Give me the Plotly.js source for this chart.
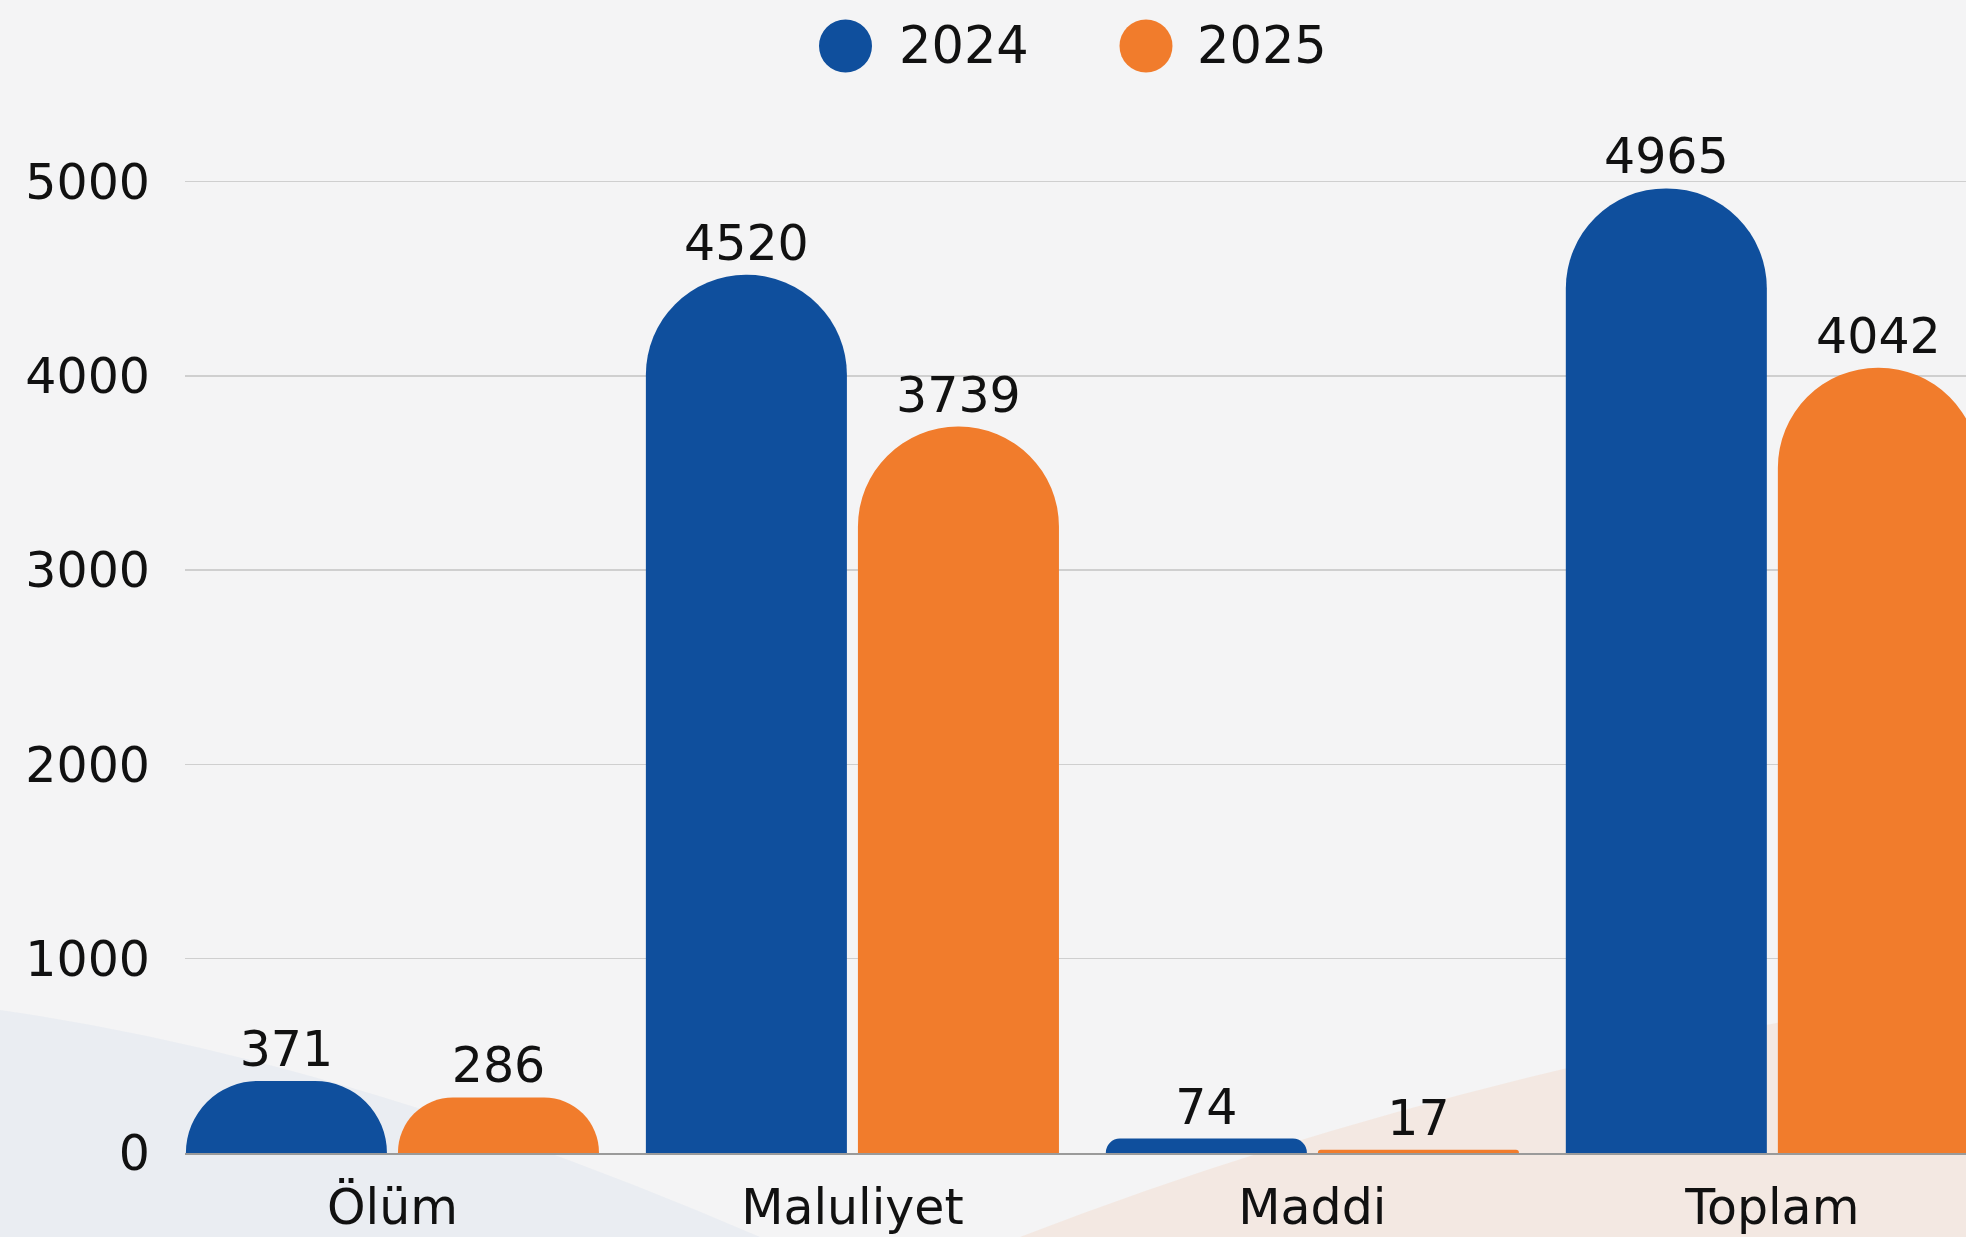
<!DOCTYPE html>
<html>
<head>
<meta charset="utf-8">
<script src="https://cdn.plot.ly/plotly-3.0.1.min.js"></script>
<style>html,body{margin:0;padding:0;background:#f4f4f5;}#chart{width:1966px;height:1237px;}</style>
</head>
<body>
<div id="chart"></div>
<script>
const categories = ["Ölüm", "Maluliyet", "Maddi", "Toplam"];
const seriesNames = ["2024", "2025"];
const values2024 = [371, 4520, 74, 4965];
const values2025 = [286, 3739, 17, 4042];
const yTicks = [0, 1000, 2000, 3000, 4000, 5000];

const colors = ["#0f4f9d", "#f17c2c"];
const FONT = "DejaVu Sans, sans-serif";

const traces = [values2024, values2025].map((vals, i) => ({
  type: "bar",
  name: seriesNames[i],
  x: categories,
  y: vals,
  text: vals.map(String),
  textposition: "outside",
  textfont: {family: FONT, size: 49, color: "#111"},
  cliponaxis: false,
  marker: {color: colors[i], cornerradius: "50%"},
  hoverinfo: "skip",
  showlegend: false
}));

// page geometry helpers (decoration / legend placement only)
const L = 185, PW = 1781, B = 1153, PH = 1053;
const px = X => (X - L) / PW;
const py = Y => (B - Y) / PH;

// legend drawn as circles + text
const legendCenters = [px(845.5), px(1146)];
const legendTextX = [px(897), px(1195)];
const legY = py(46);
const shapes = [
  // faint background decorations
  {type: "path", xref: "paper", yref: "paper", layer: "below", line: {width: 0},
   fillcolor: "rgba(170,190,225,0.13)",
   path: `M ${px(0)},${py(1010)} Q ${px(350)},${py(1060)} ${px(760)},${py(1237)} L ${px(0)},${py(1237)} Z`},
  {type: "path", xref: "paper", yref: "paper", layer: "below", line: {width: 0},
   fillcolor: "rgba(245,175,130,0.16)",
   path: `M ${px(1020)},${py(1237)} Q ${px(1450)},${py(1070)} ${px(1966)},${py(990)} L ${px(1966)},${py(1237)} Z`},
  ...legendCenters.map((cx, i) => ({
    type: "circle", xref: "paper", yref: "paper",
    xsizemode: "pixel", ysizemode: "pixel",
    xanchor: cx, yanchor: legY,
    x0: -26.5, x1: 26.5, y0: -26.5, y1: 26.5,
    fillcolor: colors[i], line: {width: 0}
  }))
];
const annotations = seriesNames.map((n, i) => ({
  xref: "paper", yref: "paper", x: legendTextX[i], y: legY,
  xanchor: "left", yanchor: "middle", showarrow: false,
  text: n, font: {family: FONT, size: 51, color: "#111"}
}));

const layout = {
  width: 1966, height: 1237,
  margin: {l: L, r: 0, t: 100, b: 84},
  paper_bgcolor: "#f4f4f5",
  plot_bgcolor: "rgba(0,0,0,0)",
  barmode: "group",
  bargap: 0.078,
  bargroupgap: 0.052,
  showlegend: false,
  font: {family: FONT, color: "#111"},
  xaxis: {
    type: "category",
    range: [-0.451, 3.421],
    tickfont: {family: FONT, size: 49, color: "#111"},
    ticks: "",
    showgrid: false,
    showline: true, linecolor: "#9a9a9a", linewidth: 2,
    ticklabelstandoff: 10
  },
  yaxis: {
    range: [0, 5420],
    tickvals: yTicks,
    ticktext: yTicks.map(String),
    tickfont: {family: FONT, size: 49, color: "#111"},
    showgrid: true, gridcolor: "#cfcfcf", gridwidth: 1.5,
    zeroline: false,
    ticks: "",
    ticklabelstandoff: 34
  },
  shapes: shapes,
  annotations: annotations
};

Plotly.newPlot("chart", traces, layout, {staticPlot: true, displayModeBar: false});
</script>
</body>
</html>
